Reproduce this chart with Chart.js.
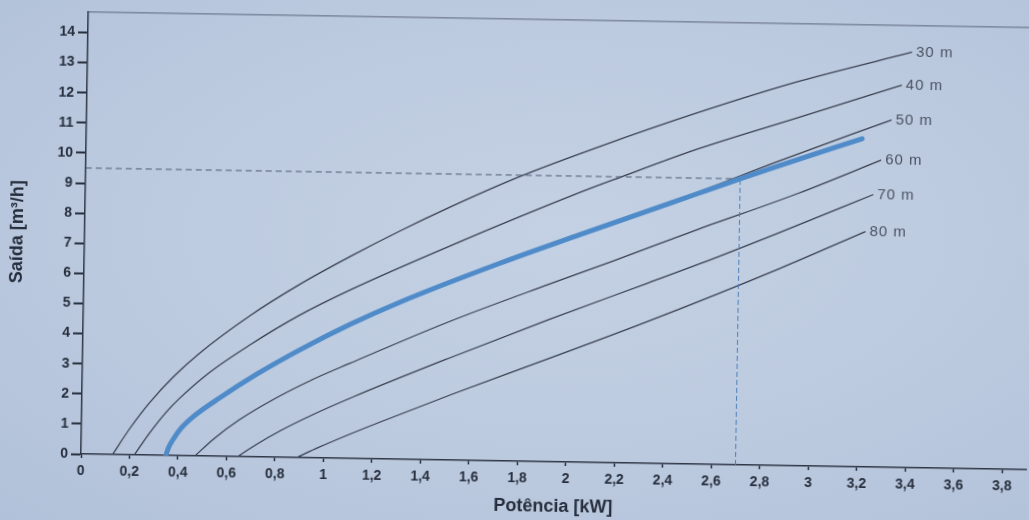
<!DOCTYPE html>
<html lang="pt">
<head>
<meta charset="utf-8">
<title>Saída x Potência</title>
<script src="https://cdn.jsdelivr.net/npm/chart.js@4.4.1/dist/chart.umd.min.js"></script>
<style>
  html, body { margin: 0; padding: 0; overflow: hidden; }
  body { background: radial-gradient(ellipse at 55% 45%, #c4d1e4 0%, #bccadf 55%, #b1c1d9 100%); width: 1029px; height: 520px; }
  /* the source sheet was photographed slightly turned; keep that tilt */
  #wrap {
    position: relative; width: 1029px; height: 520px;
    transform: rotate(0.95deg); transform-origin: 81px 454px;
  }
</style>
</head>
<body>
<div id="wrap"><canvas id="chart"></canvas></div>
<script>
// Tick values
const X_TICKS = [0, 0.2, 0.4, 0.6, 0.8, 1, 1.2, 1.4, 1.6, 1.8, 2, 2.2, 2.4, 2.6, 2.8, 3, 3.2, 3.4, 3.6, 3.8];
const Y_TICKS = [0, 1, 2, 3, 4, 5, 6, 7, 8, 9, 10, 11, 12, 13, 14];

// Curves: potência [kW] -> saída [m³/h], one per head
const P_30 = [0.13, 0.20, 0.28, 0.38, 0.48, 0.69, 0.89, 1.10, 1.30, 1.50, 1.79, 2.12, 2.53, 2.94, 3.40];
const Q_30 = [0, 0.88, 1.75, 2.65, 3.40, 4.70, 5.75, 6.72, 7.58, 8.38, 9.45, 10.50, 11.70, 12.78, 13.80];

const P_40 = [0.22, 0.28, 0.35, 0.40, 0.52, 0.69, 0.89, 1.10, 1.51, 2.04, 2.19, 2.53, 2.94, 3.36];
const Q_40 = [0, 0.72, 1.45, 1.88, 2.75, 3.72, 4.72, 5.60, 7.12, 8.96, 9.44, 10.49, 11.58, 12.70];

const P_50 = [0.35, 0.36, 0.38, 0.41, 0.46, 0.57, 0.72, 0.90, 1.10, 1.30, 1.71, 2.04, 2.53, 2.86, 3.32];
const Q_50 = [0, 0.25, 0.55, 0.90, 1.30, 1.95, 2.75, 3.60, 4.45, 5.20, 6.55, 7.55, 9.05, 10.12, 11.54];

const P_60 = [0.47, 0.55, 0.65, 0.79, 0.95, 1.10, 1.51, 1.92, 2.18, 2.53, 2.94, 3.28];
const Q_60 = [0, 0.60, 1.22, 1.92, 2.60, 3.15, 4.60, 5.90, 6.70, 7.80, 9.05, 10.20];

const P_70 = [0.646, 0.72, 0.82, 0.95, 1.12, 1.51, 1.92, 2.33, 2.54, 2.86, 3.25];
const Q_70 = [0, 0.40, 0.88, 1.42, 2.05, 3.38, 4.72, 6.00, 6.66, 7.72, 9.05];

const P_80 = [0.89, 0.98, 1.10, 1.23, 1.53, 1.93, 2.33, 2.87, 3.22];
const Q_80 = [0, 0.35, 0.78, 1.22, 2.20, 3.45, 4.72, 6.55, 7.82];

// Highlighted curve (blue)
const P_SEL = [0.35, 0.36, 0.38, 0.41, 0.46, 0.57, 0.72, 0.90, 1.10, 1.30, 1.71, 2.04, 2.53, 2.70, 2.86, 3.20];
const Q_SEL = [0, 0.25, 0.55, 0.90, 1.30, 1.95, 2.75, 3.60, 4.45, 5.20, 6.55, 7.55, 9.00, 9.50, 9.96, 10.90];

// Operating point guides
const GUIDE_H_P = [0, 2.7];
const GUIDE_H_Q = [9.5, 9.5];
const GUIDE_V_P = [2.7, 2.7];
const GUIDE_V_Q = [0, 9.5];

const FONT = "'Liberation Sans', Arial, sans-serif";
const INK = '#262e3d';
const CURVE = '#3b4252';

const pts = (xs, ys) => xs.map((x, i) => ({ x, y: ys[i] }));

function curve(label, xs, ys) {
  return {
    endLabel: label,
    data: pts(xs, ys),
    borderColor: CURVE,
    borderWidth: 1.3,
    pointRadius: 0,
    cubicInterpolationMode: 'monotone',
    order: 2,
  };
}

// Writes "30 m" etc. right after the end of each curve
const endLabels = {
  id: 'endLabels',
  afterDatasetsDraw(chart) {
    const { ctx } = chart;
    ctx.save();
    ctx.font = '15px ' + FONT;
    ctx.letterSpacing = '1px';
    ctx.fillStyle = '#4a5162';
    ctx.textBaseline = 'middle';
    chart.data.datasets.forEach((ds, i) => {
      if (!ds.endLabel) return;
      const meta = chart.getDatasetMeta(i);
      const last = meta.data[meta.data.length - 1];
      ctx.fillText(ds.endLabel, last.x + 4, last.y);
    });
    ctx.restore();
  },
};

// Frame line along the top of the plot
const topFrame = {
  id: 'topFrame',
  beforeDatasetsDraw(chart) {
    const { ctx, chartArea } = chart;
    ctx.save();
    ctx.strokeStyle = '#5b6579';
    ctx.lineWidth = 1;
    ctx.beginPath();
    ctx.moveTo(chartArea.left, chartArea.top + 0.5);
    ctx.lineTo(chartArea.right, chartArea.top + 0.5);
    ctx.stroke();
    ctx.restore();
  },
};

new Chart(document.getElementById('chart'), {
  type: 'line',
  data: {
    datasets: [
      {
        data: pts(P_SEL, Q_SEL),
        borderColor: '#4f8bc9',
        borderWidth: 5,
        borderCapStyle: 'round',
        pointRadius: 0,
        cubicInterpolationMode: 'monotone',
        order: 0,
      },
      {
        data: pts(GUIDE_H_P, GUIDE_H_Q),
        borderColor: '#4d5b72',
        borderWidth: 1,
        borderDash: [6, 4],
        pointRadius: 0,
        order: 1,
      },
      {
        data: pts(GUIDE_V_P, GUIDE_V_Q),
        borderColor: '#4c7fb8',
        borderWidth: 1,
        borderDash: [5, 3],
        pointRadius: 0,
        order: 1,
      },
      curve('30 m', P_30, Q_30),
      curve('40 m', P_40, Q_40),
      curve('50 m', P_50, Q_50),
      curve('60 m', P_60, Q_60),
      curve('70 m', P_70, Q_70),
      curve('80 m', P_80, Q_80),
    ],
  },
  options: {
    responsive: true,
    maintainAspectRatio: false,
    animation: false,
    layout: { padding: { top: 10, right: 0, bottom: 0, left: 0 } },
    plugins: {
      legend: { display: false },
      tooltip: { enabled: false },
    },
    scales: {
      x: {
        type: 'linear',
        min: 0,
        max: 3.9,
        afterBuildTicks: s => { s.ticks = X_TICKS.map(v => ({ value: v })); },
        afterFit: s => { s.height = 66; },
        ticks: {
          autoSkip: false,
          maxRotation: 0,
          padding: 5,
          color: INK,
          font: { family: FONT, size: 14, weight: 'bold' },
          callback: v => String(v).replace('.', ','),
        },
        grid: { drawOnChartArea: false, drawTicks: true, tickLength: 4, tickWidth: 1.5, tickColor: INK },
        border: { color: '#2f3747', width: 1.5 },
        title: {
          display: true,
          text: 'Potência [kW]',
          color: INK,
          font: { family: FONT, size: 18, weight: 'bold' },
          padding: { top: 0, bottom: 10 },
        },
      },
      y: {
        type: 'linear',
        min: 0,
        max: 14.7,
        afterBuildTicks: s => { s.ticks = Y_TICKS.map(v => ({ value: v })); },
        afterFit: s => { s.width = 81; },
        ticks: {
          padding: 3,
          color: INK,
          font: { family: FONT, size: 14, weight: 'bold' },
        },
        grid: { drawOnChartArea: false, drawTicks: true, tickLength: 10, tickWidth: 2, tickColor: INK },
        border: { color: '#2f3747', width: 1.5 },
        title: {
          display: true,
          text: 'Saída [m³/h]',
          color: INK,
          font: { family: FONT, size: 18, weight: 'bold' },
          padding: { top: 3, bottom: 0 },
        },
      },
    },
  },
  plugins: [endLabels, topFrame],
});
</script>
</body>
</html>
